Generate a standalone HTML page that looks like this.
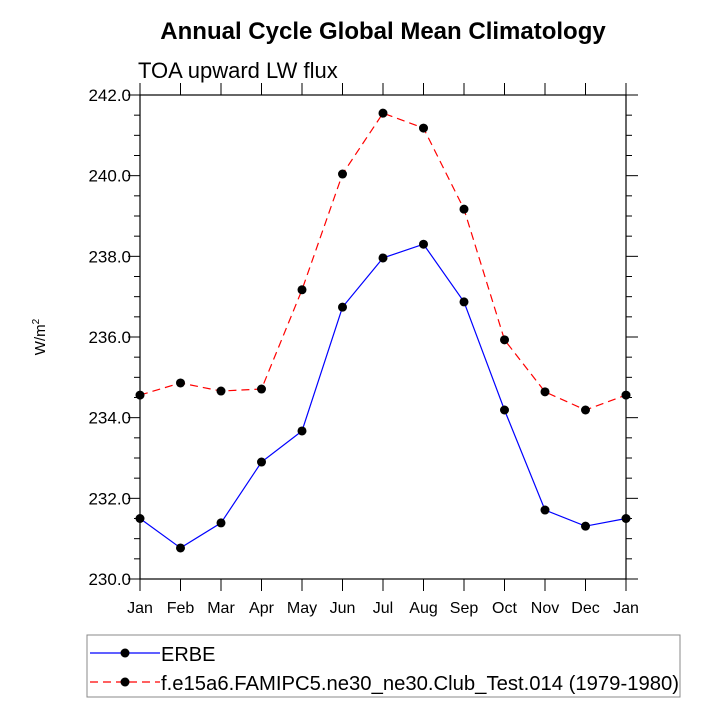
<!DOCTYPE html>
<html><head><meta charset="utf-8"><style>
body{margin:0;background:#fff}
svg text{font-family:"Liberation Sans",sans-serif}
</style></head><body>
<svg id="c" width="720" height="720" xmlns="http://www.w3.org/2000/svg">
<text x="383" y="39" text-anchor="middle" font-size="24" font-weight="bold">Annual Cycle Global Mean Climatology</text>
<text x="138" y="78" font-size="22">TOA upward LW flux</text>
<text transform="translate(45,337) rotate(-90)" text-anchor="middle" font-size="15">W/m<tspan font-size="10" dy="-6">2</tspan></text>
<g id="axes"></g>
<g id="series"></g>
<g>
<rect x="87" y="635" width="593" height="62" fill="none" stroke="#888" stroke-width="1"/>
<g>
<line x1="90" y1="653" x2="160" y2="653" stroke="#00f" stroke-width="1.2"/>
<circle cx="125" cy="653" r="4.5" fill="#000"/>
<text x="161" y="661" font-size="20">ERBE</text></g>
<g>
<line x1="90" y1="682" x2="160" y2="682" stroke="#f00" stroke-width="1.2" stroke-dasharray="8,5"/>
<circle cx="125" cy="682" r="4.5" fill="#000"/>
<text x="161" y="690" font-size="20" textLength="518" lengthAdjust="spacingAndGlyphs">f.e15a6.FAMIPC5.ne30_ne30.Club_Test.014 (1979-1980)</text></g>
</g>
</svg>
<script>
const months=["Jan","Feb","Mar","Apr","May","Jun","Jul","Aug","Sep","Oct","Nov","Dec","Jan"];
const erbe=[231.5,230.77,231.39,232.9,233.67,236.74,237.96,238.3,236.87,234.19,231.71,231.31,231.5];
const model=[234.56,234.86,234.66,234.71,237.17,240.04,241.55,241.18,239.17,235.93,234.64,234.19,234.56];
const yTicks=[230,232,234,236,238,240,242];
const L=140,R=626,T=95,B=579,ymin=230,ymax=242;
const NS="http://www.w3.org/2000/svg";
const xs=i=>L+i*(R-L)/(months.length-1);
const ys=v=>B-(v-ymin)*(B-T)/(ymax-ymin);
function mk(t,a,p){const e=document.createElementNS(NS,t);for(const k in a)e.setAttribute(k,a[k]);p.appendChild(e);return e;}
const ax=document.getElementById('axes');
const frame=mk('rect',{x:L,y:T,width:R-L,height:B-T,fill:'none',stroke:'#000','stroke-width':1.2},ax);


months.forEach((m,i)=>{const x=xs(i);
 mk('line',{x1:x,y1:B,x2:x,y2:B+12,stroke:'#000'},ax);
 mk('line',{x1:x,y1:T,x2:x,y2:T-12,stroke:'#000'},ax);
 const t=mk('text',{x:x,y:B+34,'text-anchor':'middle','font-size':16},ax);t.textContent=m;
 
 
});
for(let v=ymin;v<=ymax+1e-9;v+=0.5){const y=ys(v);const maj=yTicks.some(t=>Math.abs(t-v)<1e-6);const len=maj?12:6;
 mk('line',{x1:L,y1:y,x2:L-len,y2:y,stroke:'#000'},ax);
 mk('line',{x1:R,y1:y,x2:R+len,y2:y,stroke:'#000'},ax);}
yTicks.forEach(v=>{const t=mk('text',{x:L-9,y:ys(v)+6,'text-anchor':'end','font-size':17},ax);t.textContent=v.toFixed(1);
 
 
});
const sg=document.getElementById('series');
function series(d,color,dash,name){
 const g=mk('g',{},sg);
 
 
 mk('polyline',{points:d.map((v,i)=>xs(i)+','+ys(v)).join(' '),fill:'none',stroke:color,'stroke-width':1.2,'stroke-dasharray':dash},g);
 d.forEach((v,i)=>{const c=mk('circle',{cx:xs(i),cy:ys(v),r:4.5,fill:'#000'},g);
  
  });
}
series(erbe,'#00f','none','erbe-line');
series(model,'#f00','8,5','model-line');
</script>
</body></html>
